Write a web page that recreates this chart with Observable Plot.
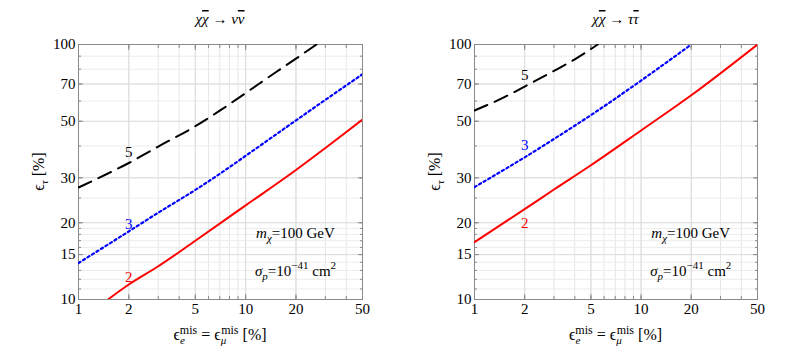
<!DOCTYPE html>
<html>
<head>
<meta charset="utf-8">
<script src="https://cdn.jsdelivr.net/npm/d3@7"></script>
<script src="https://cdn.jsdelivr.net/npm/@observablehq/plot@0.6"></script>
<style>
  html, body { margin: 0; padding: 0; background: #fff; }
  #wrap { display: flex; width: 797px; height: 359px; }
  #wrap svg, #wrap text, #wrap tspan { font-family: 'Liberation Serif' !important; }
</style>
</head>
<body>
<div id="wrap"></div>
<script>
// ---- data ----
const xTicks = [1, 2, 5, 10, 20, 50];
const yTicks = [10, 15, 20, 30, 50, 70, 100];
const xMinor = [1, 2, 3, 4, 5, 6, 7, 8, 9, 10, 20, 30, 40, 50];
const yMinor = [10, 11, 12, 13, 14, 15, 16, 17, 18, 19, 20, 25, 30, 40, 50, 60, 70, 80, 90, 100];

// left panel: χχ̄ → νν̄
const nuBlack5X = [1, 1.5, 2, 3, 5, 7, 10, 15, 20, 26.5];
const nuBlack5Y = [27.5, 31.2, 34.3, 39.8, 47.8, 55, 64.5, 77.5, 88, 100];
const nuBlue3X = [1, 2, 3, 5, 7, 10, 20, 30, 50];
const nuBlue3Y = [13.9, 18.5, 21.9, 26.9, 31.1, 36.6, 50.4, 60.7, 76.5];
const nuRed2X = [1.5, 2, 3, 5, 10, 20, 30, 50];
const nuRed2Y = [10, 11.45, 13.5, 17.0, 23.4, 32.2, 39.3, 50.8];

// right panel: χχ̄ → ττ̄
const tauBlack5X = [1, 1.5, 2, 3, 4, 5.5];
const tauBlack5Y = [55.1, 62, 68.4, 78.8, 87.5, 100];
const tauBlue3X = [1, 2, 3, 5.5, 10, 20];
const tauBlue3Y = [27.6, 36.1, 42.6, 55.1, 72.2, 100];
const tauRed2X = [1, 2, 3, 5, 10, 20, 50];
const tauRed2Y = [16.8, 22.6, 27.0, 33.6, 46.0, 63.2, 100];

// contour labels
const labelTexts = ["5", "3", "2"];
const labelColors = ["#000000", "#0000ff", "#ff0000"];
const nuLabelX = [2, 2, 2];
const nuLabelY = [37.8, 19.8, 12.2];
const tauLabelX = [2, 2, 2];
const tauLabelY = [75.5, 40.2, 19.9];

// annotation position (data coords)
const annotX = 20;
const annotY = [18.2, 12.9];

const SERIF = "Liberation Serif";
const toRows = (xs, ys) => xs.map((x, i) => ({x, y: ys[i]}));

function panel({width, marginLeft, marginRight, black, blue, red, labX, labY, title}) {
  const frameColor = "#8a8a8a";
  const blank = () => "";
  const plot = Plot.plot({
    width, height: 359,
    marginLeft, marginRight, marginTop: 44, marginBottom: 60,
    x: {type: "log", domain: [1, 50], label: null},
    y: {type: "log", domain: [10, 100], label: null},
    style: {fontSize: "14px", color: "#000", background: "#fff"},
    marks: [
      Plot.ruleX(xMinor, {stroke: "#e6e6e6", strokeWidth: 1}),
      Plot.ruleY(yMinor, {stroke: "#ececec", strokeWidth: 1}),
      Plot.ruleX(xTicks, {stroke: "#dcdcdc", strokeWidth: 1}),
      Plot.ruleY(yTicks, {stroke: "#dcdcdc", strokeWidth: 1}),
      // inward frame ticks
      Plot.axisX({anchor: "bottom", ticks: xMinor, tickSize: -3, tickFormat: blank, label: null, stroke: frameColor}),
      Plot.axisX({anchor: "top", ticks: xMinor, tickSize: -3, tickFormat: blank, label: null, stroke: frameColor}),
      Plot.axisY({anchor: "left", ticks: yMinor, tickSize: -3, tickFormat: blank, label: null, stroke: frameColor}),
      Plot.axisY({anchor: "right", ticks: yMinor, tickSize: -3, tickFormat: blank, label: null, stroke: frameColor}),
      Plot.axisX({anchor: "bottom", ticks: xTicks, tickSize: -5, tickFormat: blank, label: null, stroke: frameColor}),
      Plot.axisX({anchor: "top", ticks: xTicks, tickSize: -5, tickFormat: blank, label: null, stroke: frameColor}),
      Plot.axisY({anchor: "left", ticks: yTicks, tickSize: -5, tickFormat: blank, label: null, stroke: frameColor}),
      Plot.axisY({anchor: "right", ticks: yTicks, tickSize: -5, tickFormat: blank, label: null, stroke: frameColor}),
      // tick labels
      Plot.axisX({anchor: "bottom", ticks: xTicks, tickSize: 0, tickPadding: 4, tickFormat: d => String(d), label: null, fontSize: 15, fill: "#000"}),
      Plot.axisY({anchor: "left", ticks: yTicks, tickSize: 0, tickPadding: 3, tickFormat: d => String(d), label: null, fontSize: 15, fill: "#000"}),
      Plot.frame({stroke: frameColor, strokeWidth: 1}),
      // curves
      Plot.line(toRows(black.x, black.y), {x: "x", y: "y", stroke: "#000", strokeWidth: 2, strokeDasharray: "14,8", curve: "monotone-x", clip: true}),
      Plot.line(toRows(blue.x, blue.y), {x: "x", y: "y", stroke: "#0000ff", strokeWidth: 2.2, strokeDasharray: "2.3,3", curve: "monotone-x", clip: true}),
      Plot.line(toRows(red.x, red.y), {x: "x", y: "y", stroke: "#ff0000", strokeWidth: 2, curve: "monotone-x", clip: true}),
      // contour labels
      Plot.text(labelTexts.map((t, i) => ({t, x: labX[i], y: labY[i], c: labelColors[i]})),
        {x: "x", y: "y", text: "t", fill: "c", fontSize: 15})
    ]
  });

  const sx = plot.scale("x"), sy = plot.scale("y");
  const svg = d3.select(plot);
  const cx = (sx.range[0] + sx.range[1]) / 2;
  const cy = (sy.range[0] + sy.range[1]) / 2;

  // title
  const t = svg.append("text").attr("x", cx).attr("y", 24).attr("text-anchor", "middle")
    .attr("font-size", 15).attr("font-style", "italic");
  t.append("tspan").text("χ");
  t.append("tspan").attr("style", "text-decoration: overline").text("χ");
  t.append("tspan").attr("font-style", "normal").text(" → ");
  t.append("tspan").text(title[0]);
  t.append("tspan").attr("style", "text-decoration: overline").text(title[1]);

  // x label
  const xl = svg.append("text").attr("x", cx).attr("y", 340).attr("text-anchor", "middle").attr("font-size", 16);
  xl.append("tspan").text("ϵ");
  xl.append("tspan").attr("font-size", 11).attr("font-style", "italic").attr("dy", 4).text("e");
  xl.append("tspan").attr("font-size", 12).attr("dy", -10).attr("dx", -5).text("mis");
  xl.append("tspan").attr("dy", 6).text(" = ϵ");
  xl.append("tspan").attr("font-size", 11).attr("font-style", "italic").attr("dy", 4).text("μ");
  xl.append("tspan").attr("font-size", 12).attr("dy", -10).attr("dx", -5).text("mis");
  xl.append("tspan").attr("dy", 6).text(" [%]");

  // y label
  const yl = svg.append("text").attr("transform", `translate(${marginLeft - 34},${cy}) rotate(-90)`)
    .attr("text-anchor", "middle").attr("font-size", 16);
  yl.append("tspan").text("ϵ");
  yl.append("tspan").attr("font-size", 11).attr("font-style", "italic").attr("dy", 4).text("τ");
  yl.append("tspan").attr("dy", -4).text(" [%]");

  // annotations
  const a1 = svg.append("text").attr("x", sx.apply(annotX)).attr("y", sy.apply(annotY[0])).attr("dy", "0.35em")
    .attr("text-anchor", "middle").attr("font-size", 15);
  a1.append("tspan").attr("font-style", "italic").text("m");
  a1.append("tspan").attr("font-style", "italic").attr("font-size", 11).attr("dy", 4).text("χ");
  a1.append("tspan").attr("dy", -4).text("=100 GeV");

  const a2 = svg.append("text").attr("x", sx.apply(annotX)).attr("y", sy.apply(annotY[1])).attr("dy", "0.35em")
    .attr("text-anchor", "middle").attr("font-size", 15);
  a2.append("tspan").attr("font-style", "italic").text("σ");
  a2.append("tspan").attr("font-style", "italic").attr("font-size", 11).attr("dy", 4).text("p");
  a2.append("tspan").attr("dy", -4).text("=10");
  a2.append("tspan").attr("font-size", 11).attr("dy", -7).text("−41");
  a2.append("tspan").attr("dy", 7).text(" cm");
  a2.append("tspan").attr("font-size", 11).attr("dy", -7).text("2");

  svg.selectAll("text, tspan").attr("font-family", SERIF);

  return plot;
}

const wrap = document.getElementById("wrap");
wrap.append(panel({
  width: 397, marginLeft: 78, marginRight: 35,
  black: {x: nuBlack5X, y: nuBlack5Y}, blue: {x: nuBlue3X, y: nuBlue3Y}, red: {x: nuRed2X, y: nuRed2Y},
  labX: nuLabelX, labY: nuLabelY, title: ["ν", "ν"]
}));
wrap.append(panel({
  width: 400, marginLeft: 77, marginRight: 40,
  black: {x: tauBlack5X, y: tauBlack5Y}, blue: {x: tauBlue3X, y: tauBlue3Y}, red: {x: tauRed2X, y: tauRed2Y},
  labX: tauLabelX, labY: tauLabelY, title: ["τ", "τ"]
}));
</script>
</body>
</html>
